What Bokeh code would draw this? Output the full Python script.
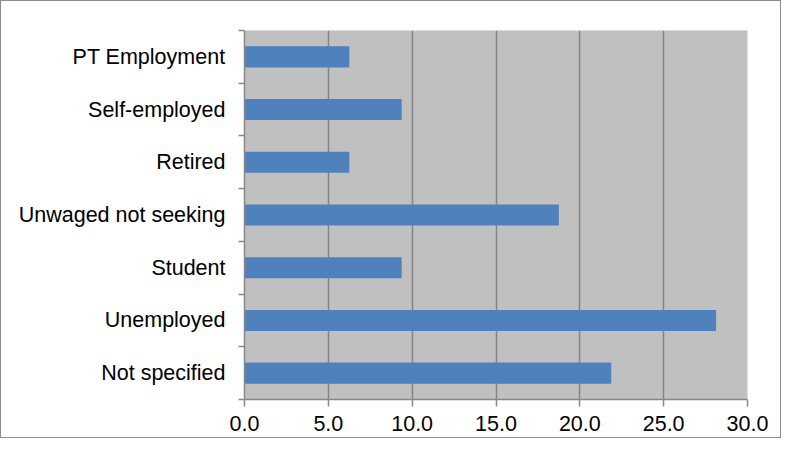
from bokeh.plotting import figure
from bokeh.models import FixedTicker, Range1d, NumeralTickFormatter
from bokeh.embed import file_html
from bokeh.resources import INLINE

# Data (bottom to top, as drawn)
categories = ["Not specified", "Unemployed", "Student", "Unwaged not seeking",
              "Retired", "Self-employed", "PT Employment"]
values = [21.875, 28.125, 9.375, 18.75, 6.25, 9.375, 6.25]
x_ticks = [0, 5, 10, 15, 20, 25, 30]

n = len(categories)
centers = [i + 0.5 for i in range(n)]
bounds = list(range(n + 1))

p = figure(width=781, height=438, output_backend="svg", toolbar_location=None,
           x_range=Range1d(0, 30), y_range=Range1d(0, n),
           min_border_left=243, min_border_right=35,
           min_border_top=29, min_border_bottom=40)
p.styles = {"border": "1px solid #8c8c8c", "box-sizing": "border-box"}

p.background_fill_color = "#C0C0C0"
p.border_fill_color = "white"
p.outline_line_color = None

p.hbar(y=centers, right=values, left=0, height=0.4, color="#4F81BD", line_color=None)

# x axis
p.xaxis.ticker = FixedTicker(ticks=x_ticks)
p.xaxis.formatter = NumeralTickFormatter(format="0.0")
p.xaxis.axis_line_color = "#888888"
p.xaxis.axis_line_width = 1.5
p.xaxis.major_tick_line_color = "#888888"
p.xaxis.major_tick_line_width = 1.5
p.xaxis.major_tick_out = 7
p.xaxis.major_tick_in = 0
p.xaxis.minor_tick_line_color = None
p.xaxis.major_label_text_font = "Liberation Sans"
p.xaxis.major_label_text_font_size = "21.5px"
p.xaxis.major_label_text_color = "black"
p.xaxis.major_label_standoff = 9

# y axis
p.yaxis.ticker = FixedTicker(ticks=centers, minor_ticks=bounds)
p.yaxis.major_label_overrides = {c: lab for c, lab in zip(centers, categories)}
p.yaxis.axis_line_color = "#888888"
p.yaxis.axis_line_width = 1.5
p.yaxis.major_tick_line_color = None
p.yaxis.minor_tick_line_color = "#888888"
p.yaxis.minor_tick_line_width = 1.5
p.yaxis.minor_tick_out = 6
p.yaxis.minor_tick_in = 0
p.yaxis.major_label_text_font = "Liberation Sans"
p.yaxis.major_label_text_font_size = "21.5px"
p.yaxis.major_label_text_color = "black"
p.yaxis.major_label_standoff = 13

# grids
p.xgrid.ticker = FixedTicker(ticks=x_ticks)
p.xgrid.grid_line_color = "#848484"
p.xgrid.grid_line_width = 1.5
p.ygrid.grid_line_color = None

open("out.html", "w").write(file_html(p, INLINE))
